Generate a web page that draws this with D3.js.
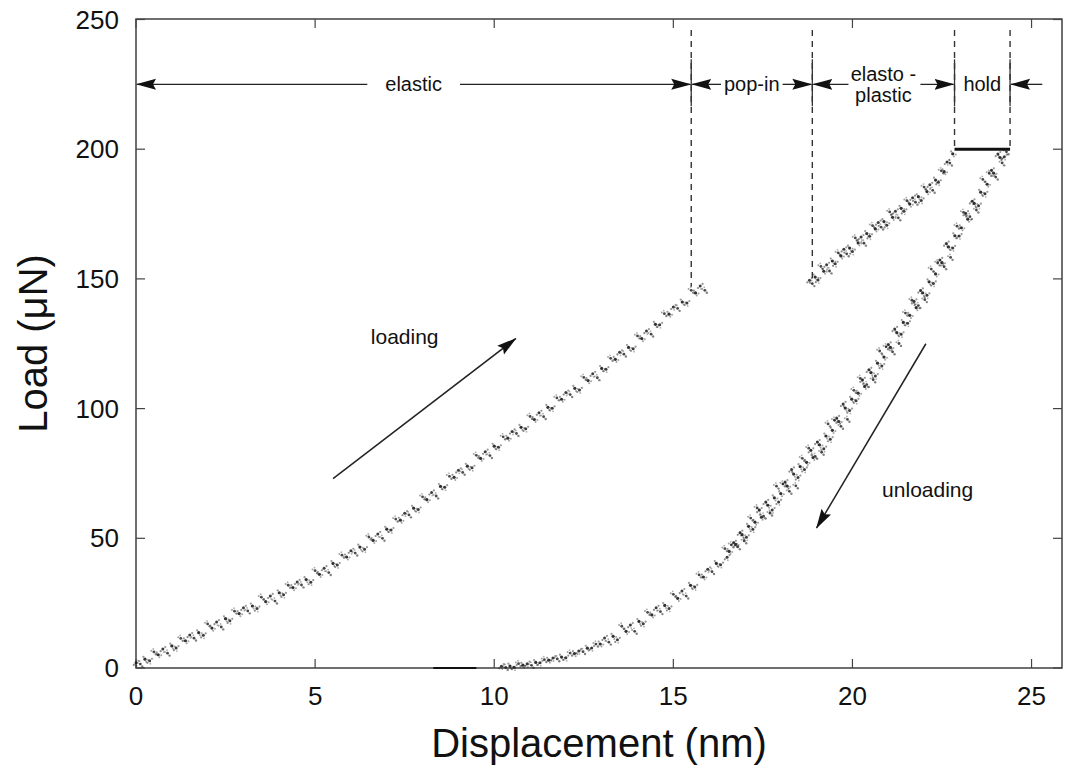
<!DOCTYPE html>
<html><head><meta charset="utf-8">
<script src="https://cdn.jsdelivr.net/npm/d3@7/dist/d3.min.js"></script>
<style>body{margin:0;background:#fff}svg{display:block}text{font-family:"Liberation Sans",Arial,Helvetica,sans-serif;fill:#111}</style>
</head><body><svg id="c" width="1069" height="769"></svg>
<script>
// ---- data ----
const xTicks = [0, 5, 10, 15, 20, 25];
const yTicks = [0, 50, 100, 150, 200, 250];
const xTitle = "Displacement (nm)";
const yTitle = "Load (\u03bcN)";
const loading = [[0,2.0],[0.12,1.5],[0.25,3.4],[0.38,2.8],[0.5,6.2],[0.62,5.1],[0.75,7.3],[0.88,5.7],[1,8.5],[1.12,7.7],[1.25,11.4],[1.38,10.5],[1.5,12.7],[1.62,11.5],[1.75,13.6],[1.88,12.6],[2,17.0],[2.12,15.4],[2.25,17.7],[2.38,15.8],[2.5,19.0],[2.62,18.2],[2.75,21.9],[2.88,21.0],[3,23.2],[3.12,22.0],[3.25,23.9],[3.38,22.9],[3.5,27.3],[3.62,25.6],[3.75,27.8],[3.88,25.8],[4,29.0],[4.12,28.2],[4.25,31.9],[4.38,31.0],[4.5,33.2],[4.62,32.0],[4.75,34.1],[4.88,33.1],[5,37.5],[5.12,36.1],[5.25,38.5],[5.38,36.8],[5.5,40.3],[5.62,39.7],[5.75,43.5],[5.88,42.8],[6,45.2],[6.12,44.3],[6.25,46.6],[6.38,45.8],[6.5,50.5],[6.62,49.2],[6.75,51.7],[6.88,50.0],[7,53.5],[7.12,53.2],[7.25,57.4],[7.38,57.0],[7.5,59.7],[7.62,59.0],[7.75,61.6],[7.88,61.1],[8,66.0],[8.12,64.9],[8.25,67.7],[8.38,66.3],[8.5,70.0],[8.62,69.7],[8.75,73.9],[8.88,73.5],[9,76.2],[9.12,75.4],[9.25,77.8],[9.38,77.2],[9.5,82.0],[9.62,80.8],[9.75,83.4],[9.88,81.9],[10,85.5],[10.12,85.1],[10.25,89.1],[10.38,88.6],[10.5,91.2],[10.62,90.4],[10.75,92.8],[10.88,92.2],[11,97.0],[11.12,95.8],[11.25,98.4],[11.38,96.9],[11.5,100.5],[11.62,100.1],[11.75,104.1],[11.88,103.6],[12,106.2],[12.12,105.4],[12.25,107.8],[12.38,107.2],[12.5,112.0],[12.62,110.8],[12.75,113.4],[12.88,111.9],[13,115.5],[13.12,115.2],[13.25,119.4],[13.38,119.0],[13.5,121.7],[13.62,121.0],[13.75,123.6],[13.88,123.1],[14,128.0],[14.12,127.0],[14.25,129.9],[14.38,128.7],[14.5,132.5],[14.62,132.3],[14.75,136.6],[14.88,136.4],[15,139.2],[15.12,138.6],[15.25,141.1],[15.38,140.7],[15.5,145.6],[15.62,144.6],[15.75,147.3],[15.88,145.6]];
const elastoPlastic = [[18.8,149.5],[18.88,148.15],[18.96,150.7],[19.04,149.55],[19.12,154.8],[19.2,152.95],[19.28,155.45],[19.36,153.05],[19.44,156.9],[19.52,155.85],[19.6,160.05],[19.68,158.85],[19.76,161.4],[19.84,159.65],[19.92,161.9],[20,160.55],[20.08,165.8],[20.16,163.85],[20.24,166.15],[20.32,163.75],[20.4,167.5],[20.48,166.45],[20.56,170.55],[20.64,169.25],[20.72,171.7],[20.8,169.95],[20.88,172.1],[20.96,170.65],[21.04,175.8],[21.12,173.75],[21.2,176.05],[21.28,173.55],[21.36,177.2],[21.44,176.05],[21.52,180.15],[21.6,178.85],[21.68,181.3],[21.76,179.55],[21.84,181.7],[21.92,180.25],[22,185.4],[22.08,183.65],[22.16,186.25],[22.24,184.15],[22.32,188.1],[22.4,187.25],[22.48,191.65],[22.56,191.35],[22.64,195.1],[22.72,194.65],[22.8,198.2]];
const unloading = [[10.2,0.7],[10.32,0.2],[10.44,0.74],[10.56,0.32],[10.68,1.66],[10.8,1.08],[10.92,1.66],[11.04,1.02],[11.16,2.14],[11.28,1.98],[11.4,3.22],[11.52,3.02],[11.64,3.82],[11.76,3.5],[11.88,4.22],[12,3.98],[12.12,5.74],[12.24,5.58],[12.36,6.58],[12.48,6.3],[12.6,7.66],[12.72,7.74],[12.84,9.22],[12.96,9.26],[13.08,11.6],[13.2,9.95],[13.32,12.2],[13.44,10.85],[13.56,16.1],[13.68,14.15],[13.8,16.55],[13.92,14.15],[14.04,17.96],[14.16,17.09],[14.28,21.47],[14.4,20.45],[14.52,23.18],[14.64,21.71],[14.76,24.14],[14.88,22.97],[15,28.4],[15.12,26.87],[15.24,29.69],[15.36,27.71],[15.48,31.88],[15.6,31.25],[15.72,35.87],[15.84,35.09],[15.96,38.06],[16.08,37.15],[16.2,40.3],[16.32,39.85],[16.44,46.0],[16.56,44.95],[16.68,48.25],[16.8,46.75],[16.92,51.4],[17.04,50.39],[17.16,57.81],[17.28,56.23],[17.4,60.9],[17.52,58.57],[17.64,62.74],[17.76,60.91],[17.88,70.08],[18,67.25],[18.12,71.67],[18.24,68.09],[18.36,74.76],[18.48,73.43],[18.6,80.85],[18.72,79.27],[18.84,83.94],[18.96,81.61],[19.08,86.02],[19.2,84.55],[19.32,94.08],[19.44,91.61],[19.56,96.39],[19.68,93.17],[19.8,100.2],[19.92,99.23],[20.04,107.05],[20.16,105.95],[20.28,111.1],[20.4,109.25],[20.52,113.9],[20.64,112.55],[20.76,122.2],[20.88,119.85],[21,124.75],[21.12,121.89],[21.24,129.28],[21.36,128.67],[21.48,136.81],[21.6,135.95],[21.72,141.34],[21.84,139.73],[21.96,144.62],[22.08,143.67],[22.2,153.8],[22.32,151.93],[22.44,157.31],[22.56,154.69],[22.68,162.32],[22.8,161.95],[22.92,170.33],[23.04,169.71],[23.16,175.34],[23.28,173.97],[23.4,179.1],[23.52,178.23],[23.64,188.36],[23.76,186.49],[23.88,191.87],[24,189.25],[24.12,196.8],[24.24,197.1],[24.3,199.0]];
const unloadingUpper = [[16.5,42.7],[16.62,47.5],[16.74,47.65],[16.86,52.15],[16.98,49.0],[17.1,54.6],[17.22,53.52],[17.34,61.69],[17.46,58.11],[17.58,64.03],[17.7,59.7],[17.82,65.62],[17.94,64.04],[18.06,70.96],[18.18,70.13],[18.3,76.55],[18.42,70.22],[18.54,77.64],[18.66,76.56],[18.78,84.73],[18.9,81.15],[19.02,87.13],[19.14,83.16],[19.26,89.44],[19.38,88.22],[19.5,95.5],[19.62,95.03],[19.74,101.81],[19.86,95.84],[19.98,103.62],[20.1,103.0],[20.22,111.65],[20.34,108.55],[20.46,114.95],[20.58,111.1],[20.7,117.5],[20.82,116.4],[20.94,123.8],[21.06,123.57],[21.18,130.71],[21.3,125.1],[21.42,133.24],[21.54,132.88],[21.66,141.77],[21.78,138.91],[21.9,145.55],[22.02,141.98],[22.14,148.86],[22.26,148.24],[22.38,156.12],[22.5,156.25],[22.62,163.63],[22.74,158.26],[22.86,166.64],[22.98,166.52],[23.1,175.65],[23.22,173.03],[23.34,179.91],[23.46,176.54],[23.58,183.42],[23.7,182.8],[23.82,190.68],[23.94,190.81],[24.06,198.15],[24.18,194.7]];
const hold = [[22.85,200],[24.4,200]];
const baseSegment = [[8.3,0],[9.5,0]];
// stage boundaries (displacement) and their end loads
const stageBounds = [15.5, 18.88, 22.85, 24.4];
const stageBoundLoads = [147, 150, 200, 200];
const stageLabels = ["elastic", "pop-in", ["elasto -", "plastic"], "hold"];
const stageRowLoad = 225;
const arrowLabels = ["loading", "unloading"];

// ---- layout ----
const svg = d3.select("#c");
const L = 136, T = 19, R = 1062, B = 668;
const x = d3.scaleLinear().domain([0, 25.85]).range([L, R]);
const y = d3.scaleLinear().domain([0, 250]).range([B, T + 0.5]);

const defs = svg.append("defs");
defs.append("marker").attr("id","ahB").attr("viewBox","0 0 20 12").attr("refX",19).attr("refY",6)
  .attr("markerWidth",20).attr("markerHeight",12).attr("markerUnits","userSpaceOnUse").attr("orient","auto-start-reverse")
  .append("path").attr("d","M0,0.5 L20,6 L0,11.5 L3,6 Z").attr("fill","#111");

// frame
svg.append("rect").attr("x",L).attr("y",T).attr("width",R-L).attr("height",B-T)
  .attr("fill","none").attr("stroke","#333").attr("stroke-width",1.4);

// axes with inward ticks
const ax = svg.append("g").attr("stroke","#444").attr("stroke-width",1.2);
xTicks.forEach(t => {
  ax.append("line").attr("x1",x(t)).attr("x2",x(t)).attr("y1",B).attr("y2",B-9);
  ax.append("line").attr("x1",x(t)).attr("x2",x(t)).attr("y1",T).attr("y2",T+9);
});
yTicks.forEach(t => {
  ax.append("line").attr("y1",y(t)).attr("y2",y(t)).attr("x1",L).attr("x2",L+9);
  ax.append("line").attr("y1",y(t)).attr("y2",y(t)).attr("x1",R).attr("x2",R-9);
});
svg.append("g").selectAll("text").data(xTicks).join("text")
  .attr("x",d=>x(d)).attr("y",B+37).attr("text-anchor","middle").attr("font-size",26).text(d=>d);
svg.append("g").selectAll("text").data(yTicks).join("text")
  .attr("x",L-17).attr("y",d=>y(d)+9).attr("text-anchor","end").attr("font-size",26).text(d=>d);
svg.append("text").attr("x",(L+R)/2).attr("y",757).attr("text-anchor","middle").attr("font-size",40).text(xTitle);
svg.append("text").attr("transform",`translate(47,${(T+B)/2}) rotate(-90)`).attr("text-anchor","middle").attr("font-size",40).text(yTitle);

// data points: each reading drawn as a small speckle glyph
const speckles = [
  [[0,0,1.5,0.85],[2.4,-2.0,1.1,0.45],[-2.2,2.1,1.1,0.5],[0.8,3.0,0.9,0.35]],
  [[0,0,1.4,0.8],[-2.6,-1.2,1.0,0.4],[2.0,2.4,1.2,0.55],[-0.6,-3.0,0.9,0.35]],
  [[0,0,1.6,0.9],[3.0,0.6,1.0,0.4],[-1.6,-2.4,1.1,0.45],[1.2,2.6,1.0,0.4]]
];
const pts = svg.append("g");
[loading, elastoPlastic, unloading, unloadingUpper].forEach(series => {
  series.forEach((d,i) => {
    const cx = x(d[0]), cy = y(d[1]);
    speckles[i % 3].forEach(s => {
      pts.append("circle").attr("cx",cx+s[0]).attr("cy",cy+s[1]).attr("r",s[2])
        .attr("fill","#1a1a1a").attr("fill-opacity",s[3]);
    });
  });
});
const line = d3.line().x(d=>x(d[0])).y(d=>y(d[1]));
svg.append("path").attr("d",line(hold)).attr("stroke","#111").attr("stroke-width",3).attr("fill","none");
svg.append("path").attr("d",line(baseSegment)).attr("stroke","#111").attr("stroke-width",2.2).attr("fill","none");

// stage boundaries: dashed verticals + short solid bars
const ry = y(stageRowLoad);
stageBounds.forEach((b,i) => {
  svg.append("line").attr("x1",x(b)).attr("x2",x(b)).attr("y1",T+11).attr("y2",y(stageBoundLoads[i]))
    .attr("stroke","#333").attr("stroke-width",1.4).attr("stroke-dasharray","6,5");
  svg.append("line").attr("x1",x(b)).attr("x2",x(b)).attr("y1",ry-25).attr("y2",ry+22)
    .attr("stroke","#333").attr("stroke-width",1.3);
});

// stage row: arrows and labels
const row = svg.append("g");
function seg(x1, x2) {
  row.append("line").attr("x1",x1).attr("x2",x2).attr("y1",ry).attr("y2",ry)
    .attr("stroke","#222").attr("stroke-width",1.3).attr("marker-end","url(#ahB)");
}
const edges = [0].concat(stageBounds);
stageLabels.forEach((lab,i) => {
  const a = x(edges[i]), b = x(edges[i+1]), cx = (a+b)/2;
  if (Array.isArray(lab)) {
    row.append("text").attr("x",cx).attr("y",ry-3).attr("text-anchor","middle").attr("font-size",20).text(lab[0]);
    row.append("text").attr("x",cx).attr("y",ry+18).attr("text-anchor","middle").attr("font-size",20).text(lab[1]);
    seg(cx-35, a+1); seg(cx+37, b-1);
  } else {
    const t = row.append("text").attr("x",cx).attr("y",ry+7).attr("text-anchor","middle").attr("font-size",20).text(lab);
    const w = t.node().getComputedTextLength();
    if (lab === "hold") return;
    const pad = lab === "elastic" ? 18 : 3;
    seg(cx - w/2 - pad, a+1); seg(cx + w/2 + pad, b-1);
  }
});
// outer right arrow pointing at the hold boundary
seg(x(25.3), x(stageBounds[3])+1);

// loading / unloading annotations
const ann = svg.append("g");
ann.append("line").attr("x1",x(5.5)).attr("y1",y(73)).attr("x2",x(10.6)).attr("y2",y(127))
  .attr("stroke","#222").attr("stroke-width",1.5).attr("marker-end","url(#ahB)");
ann.append("text").attr("x",x(7.5)).attr("y",y(125)).attr("text-anchor","middle").attr("font-size",21).text(arrowLabels[0]);
ann.append("line").attr("x1",x(22.05)).attr("y1",y(125)).attr("x2",x(19.0)).attr("y2",y(54)).
  attr("stroke","#222").attr("stroke-width",1.5).attr("marker-end","url(#ahB)");
ann.append("text").attr("x",x(22.1)).attr("y",y(66)).attr("text-anchor","middle").attr("font-size",21).text(arrowLabels[1]);
</script></body></html>
